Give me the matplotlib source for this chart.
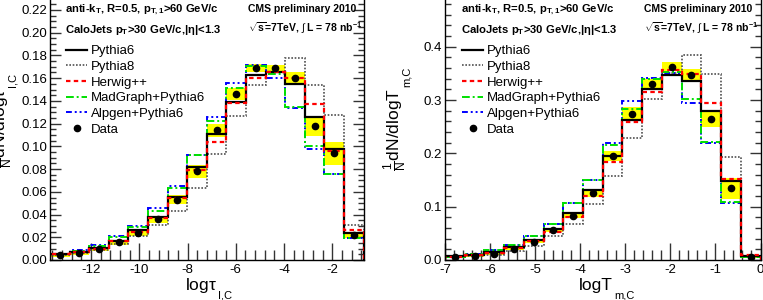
import matplotlib
matplotlib.use('Agg')
import matplotlib.pyplot as plt
import numpy as np
from matplotlib.lines import Line2D
from matplotlib.ticker import MultipleLocator, FormatStrFormatter

plt.rcParams['font.family'] = ['Liberation Sans', 'DejaVu Sans']
plt.rcParams['mathtext.fontset'] = 'custom'
plt.rcParams['mathtext.rm'] = 'Liberation Sans'
plt.rcParams['mathtext.it'] = 'Liberation Sans:italic'
plt.rcParams['mathtext.bf'] = 'Liberation Sans:bold'

# ---- left panel: log tau_{perp,C} ----
tau_range = (-13.7, -0.7)
tau_data = [0.004, 0.006, 0.0095, 0.0155, 0.024, 0.036, 0.053, 0.078,
            0.114, 0.146, 0.169, 0.169, 0.160, 0.118, 0.094, 0.022]
tau_sys = [0.001, 0.0012, 0.0015, 0.002, 0.003, 0.003, 0.004, 0.006,
           0.006, 0.005, 0.0035, 0.003, 0.0055, 0.0085, 0.010, 0.003]
tau_pythia6 = [0.005, 0.007, 0.0105, 0.017, 0.026, 0.038, 0.0557, 0.0815,
               0.111, 0.139, 0.163, 0.165, 0.155, 0.126, 0.098, 0.024]
tau_pythia8 = [0.004, 0.006, 0.0088, 0.0138, 0.021, 0.031, 0.0435, 0.0635,
               0.0935, 0.127, 0.154, 0.165, 0.178, 0.154, 0.128, 0.031]
tau_herwig = [0.005, 0.007, 0.010, 0.017, 0.025, 0.037, 0.055, 0.079,
              0.1035, 0.138, 0.1605, 0.1655, 0.1605, 0.1375, 0.096, 0.0265]
tau_madgraph = [0.005, 0.008, 0.012, 0.020, 0.029, 0.043, 0.063, 0.092,
                0.122, 0.151, 0.171, 0.164, 0.135, 0.100, 0.076, 0.019]
tau_alpgen = [0.005, 0.0085, 0.013, 0.021, 0.030, 0.046, 0.0655, 0.092,
              0.1255, 0.1555, 0.1715, 0.1605, 0.134, 0.0975, 0.0755, 0.0195]

# ---- right panel: log T_{m,C} ----
tm_range = (-7.0, 0.0)
tm_data = [0.0065, 0.0075, 0.012, 0.021, 0.0345, 0.0557, 0.083, 0.125,
           0.195, 0.274, 0.331, 0.3627, 0.347, 0.265, 0.1345, 0.006]
tm_sys = [0.001, 0.0015, 0.002, 0.0025, 0.003, 0.004, 0.005, 0.0075,
          0.0095, 0.0125, 0.0085, 0.009, 0.0105, 0.016, 0.0195, 0.002]
tm_pythia6 = [0.007, 0.0094, 0.015, 0.025, 0.0375, 0.0588, 0.0876, 0.1313,
              0.1945, 0.2627, 0.3208, 0.347, 0.336, 0.280, 0.149, 0.007]
tm_pythia8 = [0.005, 0.007, 0.009, 0.0175, 0.026, 0.0456, 0.0676, 0.105,
              0.157, 0.2295, 0.301, 0.350, 0.385, 0.348, 0.193, 0.008]
tm_herwig = [0.006, 0.009, 0.014, 0.023, 0.036, 0.053, 0.0813, 0.1206,
             0.1845, 0.258, 0.3145, 0.356, 0.348, 0.294, 0.151, 0.009]
tm_madgraph = [0.006, 0.011, 0.019, 0.028, 0.045, 0.0676, 0.1076, 0.150,
               0.216, 0.284, 0.339, 0.352, 0.301, 0.222, 0.108, 0.006]
tm_alpgen = [0.006, 0.011, 0.019, 0.028, 0.045, 0.0676, 0.1076, 0.150,
             0.219, 0.298, 0.341, 0.350, 0.295, 0.219, 0.107, 0.005]

mc_names = ['Pythia6', 'Pythia8', 'Herwig++', 'MadGraph+Pythia6', 'Alpgen+Pythia6']
mc_styles = {
    'Pythia6': dict(color='black', lw=1.6, ls='-'),
    'Pythia8': dict(color='#505050', lw=1.2, ls=(0, (1, 1))),
    'Herwig++': dict(color='#ff0000', lw=1.6, ls=(0, (2, 1.5))),
    'MadGraph+Pythia6': dict(color='#00e000', lw=1.4, ls=(0, (4, 1.5, 1, 1.5))),
    'Alpgen+Pythia6': dict(color='#0000ff', lw=1.4, ls=(0, (3, 1.5, 1, 1.5, 1, 1.5))),
}
draw_order = ['Pythia8', 'Alpgen+Pythia6', 'MadGraph+Pythia6', 'Pythia6', 'Herwig++']

W, H = 763, 300
fig = plt.figure(figsize=(W / 100, H / 100), dpi=100)


def px_box(x0, y0, x1, y1):
    return [x0 / W, 1 - y1 / H, (x1 - x0) / W, (y1 - y0) / H]


def fx(x):
    return x / W


def fy(y):
    return 1 - y / H


def panel(ax, xr, data, sys, mcs, ytop, ymaj, ymin, xmaj, xmin, yfmt):
    edges = np.linspace(xr[0], xr[1], len(data) + 1)
    centers = 0.5 * (edges[1:] + edges[:-1])
    width = edges[1] - edges[0]
    data = np.array(data)
    sys = np.array(sys)
    ax.bar(centers, 2 * sys, bottom=data - sys, width=width,
           color='#ffff00', edgecolor='none', zorder=1)
    for name in draw_order:
        ax.stairs(mcs[name], edges, baseline=0, zorder=2, **mc_styles[name])
    ax.errorbar(centers, data, yerr=0.15 * sys, fmt='o', color='black',
                ms=4.5, elinewidth=1, capsize=0, zorder=3)
    ax.set_xlim(*xr)
    ax.set_ylim(0, ytop)
    ax.yaxis.set_major_locator(MultipleLocator(ymaj))
    ax.yaxis.set_minor_locator(MultipleLocator(ymin))
    ax.xaxis.set_major_locator(MultipleLocator(xmaj))
    ax.xaxis.set_minor_locator(MultipleLocator(xmin))
    ax.yaxis.set_major_formatter(FormatStrFormatter(yfmt))
    ax.xaxis.set_major_formatter(FormatStrFormatter('%d'))
    ax.tick_params(axis='both', which='both', direction='in', labelsize=9.5,
                   width=1, color='#333333')
    ax.tick_params(axis='y', which='both', right=True, pad=2)
    ax.tick_params(axis='y', which='major', length=8)
    ax.tick_params(axis='y', which='minor', length=4)
    ax.tick_params(axis='x', which='major', length=12, pad=3)
    ax.tick_params(axis='x', which='minor', length=7)
    for s in ax.spines.values():
        s.set_linewidth(1.0)
    ax.spines['top'].set_visible(False)


axL = fig.add_axes(px_box(50, 0, 363.6, 260))
axR = fig.add_axes(px_box(445, 0, 760.5, 260))

panel(axL, tau_range, tau_data, tau_sys,
      {'Pythia6': tau_pythia6, 'Pythia8': tau_pythia8, 'Herwig++': tau_herwig,
       'MadGraph+Pythia6': tau_madgraph, 'Alpgen+Pythia6': tau_alpgen},
      0.2288, 0.02, 0.005, 2, 0.4, '%.2f')
panel(axR, tm_range, tm_data, tm_sys,
      {'Pythia6': tm_pythia6, 'Pythia8': tm_pythia8, 'Herwig++': tm_herwig,
       'MadGraph+Pythia6': tm_madgraph, 'Alpgen+Pythia6': tm_alpgen},
      0.4876, 0.1, 0.02, 1, 0.2, '%.1f')

# axis titles (ROOT style: small, low subscripts)
fig.text(fx(217), fy(290), r'log$\mathrm{\tau}$', fontsize=12.5, ha='right', va='baseline')
fig.text(fx(218), fy(298), 'I,C', fontsize=8, ha='left', va='baseline')
fig.text(fx(613), fy(290), 'logT', fontsize=12.5, ha='right', va='baseline')
fig.text(fx(614), fy(298), 'm,C', fontsize=8, ha='left', va='baseline')

# y titles, rotated (left one runs off the edge as in the original)
fig.text(fx(15), fy(88), r'$\frac{1}{\mathrm{N}}$dN/dlog$\mathrm{\tau}$', fontsize=12.5,
         rotation=90, ha='right', va='top')
fig.text(fx(18), fy(87), 'I,C', fontsize=8, rotation=90, ha='right', va='bottom')
fig.text(fx(409), fy(88), r'$\frac{1}{\mathrm{N}}$dN/dlogT', fontsize=12.5,
         rotation=90, ha='right', va='top')
fig.text(fx(412), fy(87), 'm,C', fontsize=8, rotation=90, ha='right', va='bottom')

# header texts and legends
for dx in (0, 396):
    fig.text(fx(65 + dx), fy(12), r'anti-k$_{\mathbf{T}}$, R=0.5, p$_{\mathbf{T,1}}$>60 GeV/c',
             fontsize=8.1, fontweight='bold', va='baseline')
    fig.text(fx(65 + dx), fy(33), r'CaloJets p$_{\mathbf{T}}$>30 GeV/c,|$\mathbf{\eta}$|<1.3',
             fontsize=8.1, fontweight='bold', va='baseline')
    fig.text(fx(248 + dx), fy(12), 'CMS preliminary 2010',
             fontsize=7.5, fontweight='bold', va='baseline')
    fig.text(fx(248 + dx), fy(32), r'$\sqrt{\mathbf{s}}$=7TeV, $\int$ L = 78 nb$^{\mathbf{-1}}$',
             fontsize=7.5, fontweight='bold', va='baseline')

for ax, dx in ((axL, 0), (axR, 396)):
    handles = [Line2D([], [], **mc_styles[n]) for n in mc_names]
    handles.append(Line2D([], [], color='black', marker='o', ls='none', ms=4.5))
    ax.legend(handles, mc_names + ['Data'], loc='upper left', frameon=False,
              bbox_to_anchor=(fx(66 + dx), fy(45)), bbox_transform=fig.transFigure,
              fontsize=9.5, handlelength=1.6, handletextpad=0.3, labelspacing=0.26,
              borderpad=0, borderaxespad=0)

fig.savefig('out.png', dpi=100)
